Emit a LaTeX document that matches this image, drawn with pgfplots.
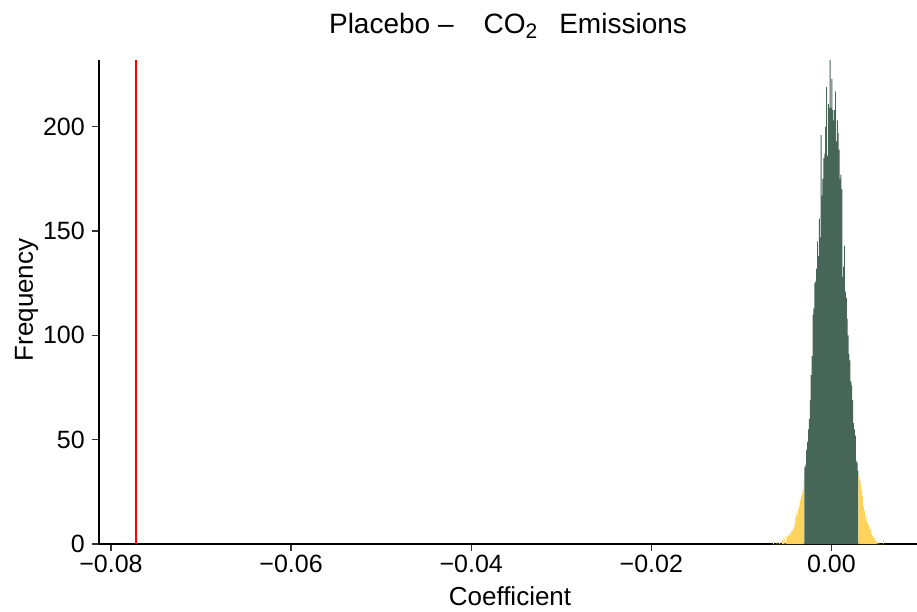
\documentclass[border=0pt]{standalone}
\usepackage{pgfplots}
\pgfplotsset{compat=1.18}
\usepackage{fontspec}
\setmainfont{Liberation Sans}
\definecolor{hgreen}{RGB}{70,102,88}
\definecolor{hyellow}{RGB}{255,210,92}
\definecolor{tickgray}{RGB}{51,51,51}
\begin{document}
\begin{tikzpicture}
\path[use as bounding box] (-99pt,-67pt) rectangle (818pt,544pt);
\begin{axis}[
  scale only axis, width=818pt, height=484pt,
  at={(0pt,0pt)}, anchor=south west,
  xmin=-0.08133, xmax=0.0095, ymin=0, ymax=232,
  axis x line*=bottom, axis y line*=left,
  axis line style={-, line width=1.3pt, black},
  tick align=outside, major tick length=7pt,
  tick style={line width=1.3pt, tickgray},
  scaled x ticks=false, scaled y ticks=false,
  xtick={-0.08,-0.06,-0.04,-0.02,0},
  xticklabels={−0.08,−0.06,−0.04,−0.02,0.00},
  ytick={0,50,100,150,200},
  yticklabels={0,50,100,150,200},
  ticklabel style={font=\fontsize{25}{30}\selectfont, black},
  xticklabel style={inner sep=0pt, anchor=north, yshift=-4pt},
  yticklabel style={inner sep=0pt, anchor=east, xshift=-7pt},
  clip=true,
]
% left tail (yellow)
\addplot[fill=hyellow, draw=none, const plot mark left] coordinates {
(-0.0065,1) (-0.0064,0) (-0.0063,0) (-0.0062,0) (-0.0061,1) (-0.0060,0) (-0.0059,0) (-0.0058,1) (-0.0057,0) (-0.0056,0)
(-0.0055,2) (-0.0054,1) (-0.0053,3) (-0.0052,0) (-0.0051,1) (-0.0050,4) (-0.0049,3) (-0.0048,4) (-0.0047,5) (-0.0046,4)
(-0.0045,6) (-0.0044,6) (-0.0043,7) (-0.0042,8) (-0.0041,10) (-0.0040,13) (-0.0039,15) (-0.0038,14) (-0.0037,17) (-0.0036,18)
(-0.0035,21) (-0.0034,23) (-0.0033,24) (-0.0032,26) (-0.0031,31) (-0.0030,31)
} \closedcycle;
% centre (green)
\addplot[fill=hgreen, draw=none, const plot mark left] coordinates {
(-0.0030,37) (-0.0029,38) (-0.0028,45) (-0.0027,49) (-0.0026,55) (-0.0025,60) (-0.0024,69) (-0.0023,81) (-0.0022,90) (-0.0021,110)
(-0.0020,113) (-0.0019,125) (-0.0018,126) (-0.0017,132) (-0.0016,145) (-0.0015,138) (-0.0014,156) (-0.0013,147) (-0.0012,196) (-0.0011,167)
(-0.0010,175) (-0.0009,185) (-0.0008,187) (-0.0007,200) (-0.0006,219) (-0.0005,186) (-0.0004,211) (-0.0003,209) (-0.0002,232) (-0.0001,209)
(0.0000,223) (0.0001,208) (0.0002,203) (0.0003,208) (0.0004,217) (0.0005,193) (0.0006,203) (0.0007,197) (0.0008,189) (0.0009,175)
(0.0010,177) (0.0011,170) (0.0012,128) (0.0013,133) (0.0014,143) (0.0015,121) (0.0016,118) (0.0017,108) (0.0018,100) (0.0019,91)
(0.0020,88) (0.0021,78) (0.0022,76) (0.0023,69) (0.0024,58) (0.0025,55) (0.0026,52) (0.0027,40) (0.0028,39) (0.0029,35) (0.0030,35)
} \closedcycle;
% right tail (yellow)
\addplot[fill=hyellow, draw=none, const plot mark left] coordinates {
(0.0030,33) (0.0031,31) (0.0032,29) (0.0033,26) (0.0034,23) (0.0035,18) (0.0036,16) (0.0037,11) (0.0038,13) (0.0039,11)
(0.0040,10) (0.0041,9) (0.0042,7) (0.0043,7) (0.0044,5) (0.0045,4) (0.0046,3) (0.0047,3) (0.0048,2) (0.0049,1)
(0.0050,1) (0.0051,0) (0.0052,1) (0.0053,0) (0.0054,0) (0.0055,0) (0.0056,0) (0.0057,2) (0.0058,0) (0.0059,0)
} \closedcycle;
% observed coefficient
\addplot[red, line width=2pt] coordinates {(-0.0772,0) (-0.0772,232)};
\end{axis}
\node[anchor=base, font=\fontsize{28}{32}\selectfont] at (409pt,510pt)
  {Placebo –\hspace{30pt}CO\raisebox{-5pt}{\fontsize{21}{21}\selectfont 2}\hspace{22pt}Emissions};
\node[anchor=base, font=\fontsize{26}{30}\selectfont] at (411pt,-61pt) {Coefficient};
\node[anchor=base, rotate=90, font=\fontsize{26}{30}\selectfont] at (-66pt,244pt) {Frequency};
\end{tikzpicture}
\end{document}
